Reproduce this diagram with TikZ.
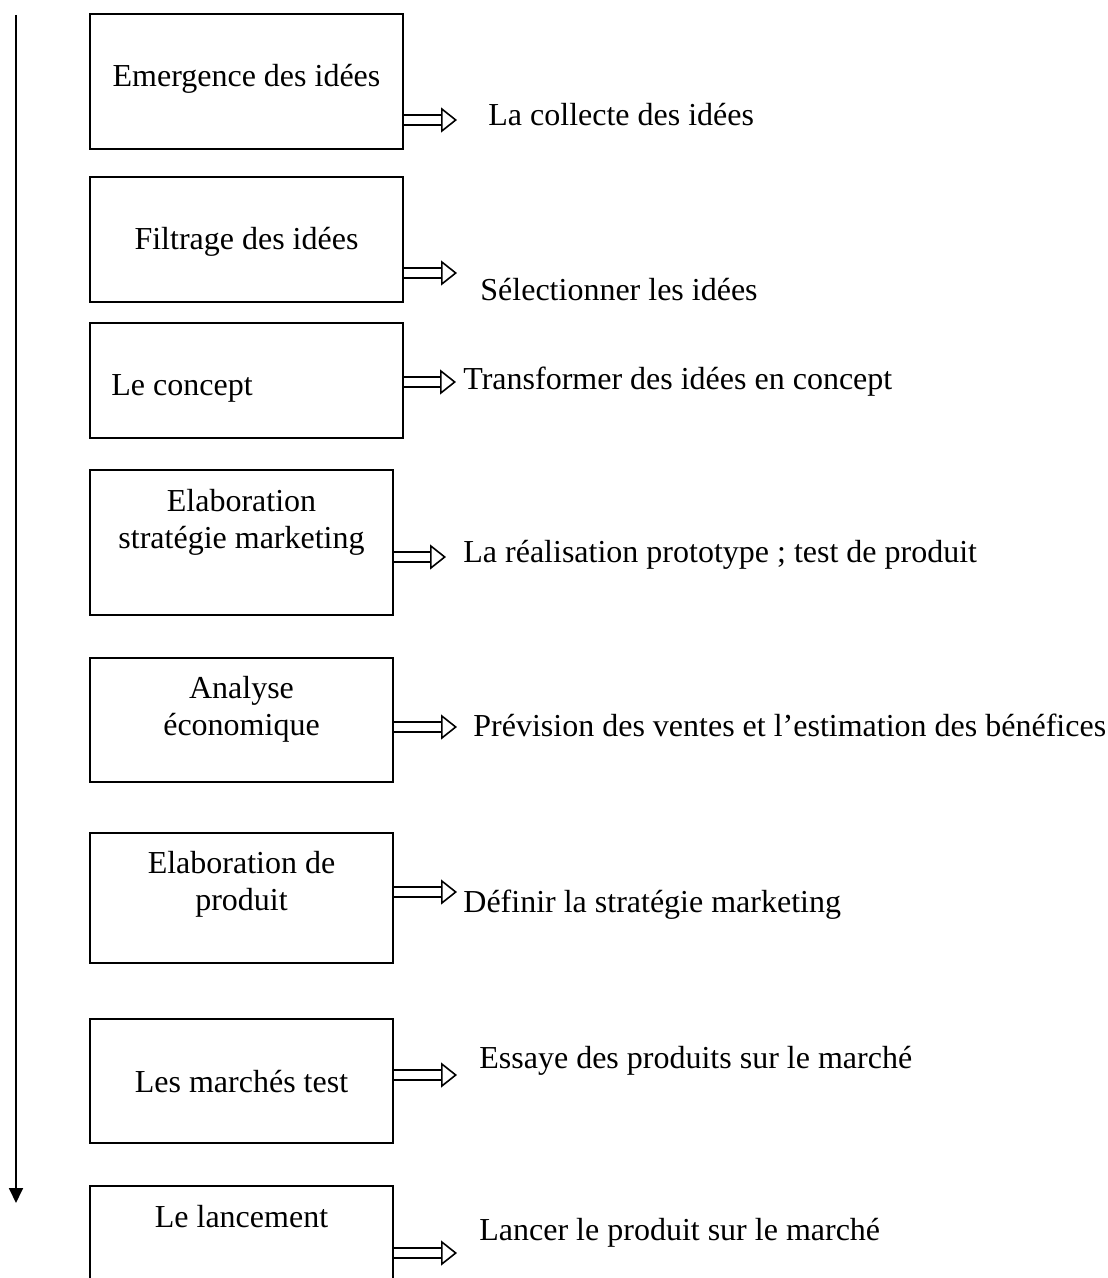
\documentclass[tikz,border=0pt]{standalone}
\usepackage{fontspec}
\setmainfont{Liberation Serif}
\usetikzlibrary{arrows.meta, fit}

\begin{document}
\begin{tikzpicture}[x=0.5pt, y=-0.5pt,
        every node/.style={font=\fontsize{16pt}{18.5pt}\selectfont},
        box/.style={draw, line width=0.9pt, inner sep=0pt},
        txt/.style={inner sep=0pt, anchor=base},
        mtxt/.style={inner sep=0pt, align=center},
        lbl/.style={inner sep=0pt, anchor=base west},
        dbl/.style={double, double distance=4pt, line width=0.8pt, -{Triangle[open, length=8pt, width=12.5pt]}}]
        \useasboundingbox (0,0) rectangle (1107,1278);
        \clip (0,0) rectangle (1107,1278);

        % Time axis
        \coordinate (top) at (16,15);
        \coordinate (bot) at (16,1203);
        \draw[line width=0.9pt, -{Triangle[length=7.5pt, width=7pt]}] (top) -- (bot);

        % Boxes
        \node[box, fit={(90,14) (403,149)}] (b1) {};
        \node[box, fit={(90,177) (403,302)}] (b2) {};
        \node[box, fit={(90,323) (403,438)}] (b3) {};
        \node[box, fit={(90,470) (393,615)}] (b4) {};
        \node[box, fit={(90,658) (393,782)}] (b5) {};
        \node[box, fit={(90,833) (393,963)}] (b6) {};
        \node[box, fit={(90,1019) (393,1143)}] (b7) {};
        \node[box, fit={(90,1186) (393,1300)}] (b8) {};

        % Steps
        \node[txt] (t1) at (246.5,87) {Emergence des idées};
        \node[txt] (t2) at (246.5,250) {Filtrage des idées};
        \node[lbl] (t3) at (111,395) {Le concept};
        \node[mtxt] (t4) at (241.5,522.5) {Elaboration\\stratégie marketing};
        \node[mtxt] (t5) at (241.5,709.5) {Analyse\\économique};
        \node[mtxt] (t6) at (241.5,884.5) {Elaboration de\\produit};
        \node[txt] (t7) at (241.5,1092) {Les marchés test};
        \node[txt] (t8) at (241.5,1227) {Le lancement};

        % Arrow ends
        \coordinate (a1) at (457,120);
        \coordinate (a2) at (457,273);
        \coordinate (a3) at (456,382);
        \coordinate (a4) at (446,557);
        \coordinate (a5) at (457,727);
        \coordinate (a6) at (457,892);
        \coordinate (a7) at (457,1075);
        \coordinate (a8) at (457,1253);

        % Arrows
        \draw[dbl] (b1.east |- a1) -- (a1);
        \draw[dbl] (b2.east |- a2) -- (a2);
        \draw[dbl] (b3.east |- a3) -- (a3);
        \draw[dbl] (b4.east |- a4) -- (a4);
        \draw[dbl] (b5.east |- a5) -- (a5);
        \draw[dbl] (b6.east |- a6) -- (a6);
        \draw[dbl] (b7.east |- a7) -- (a7);
        \draw[dbl] (b8.east |- a8) -- (a8);

        % Descriptions
        \node[lbl] (l1) at (488,126) {La collecte des idées};
        \node[lbl] (l2) at (480,300) {Sélectionner les idées};
        \node[lbl] (l3) at (463,389) {Transformer des idées en concept};
        \node[lbl] (l4) at (463,562) {La réalisation prototype ; test de produit};
        \node[lbl] (l5) at (473,736) {Prévision des ventes et l’estimation des bénéfices};
        \node[lbl] (l6) at (463,912) {Définir la stratégie marketing};
        \node[lbl] (l7) at (479,1068) {Essaye des produits sur le marché};
        \node[lbl] (l8) at (479,1240) {Lancer le produit sur le marché};
\end{tikzpicture}
\end{document}
